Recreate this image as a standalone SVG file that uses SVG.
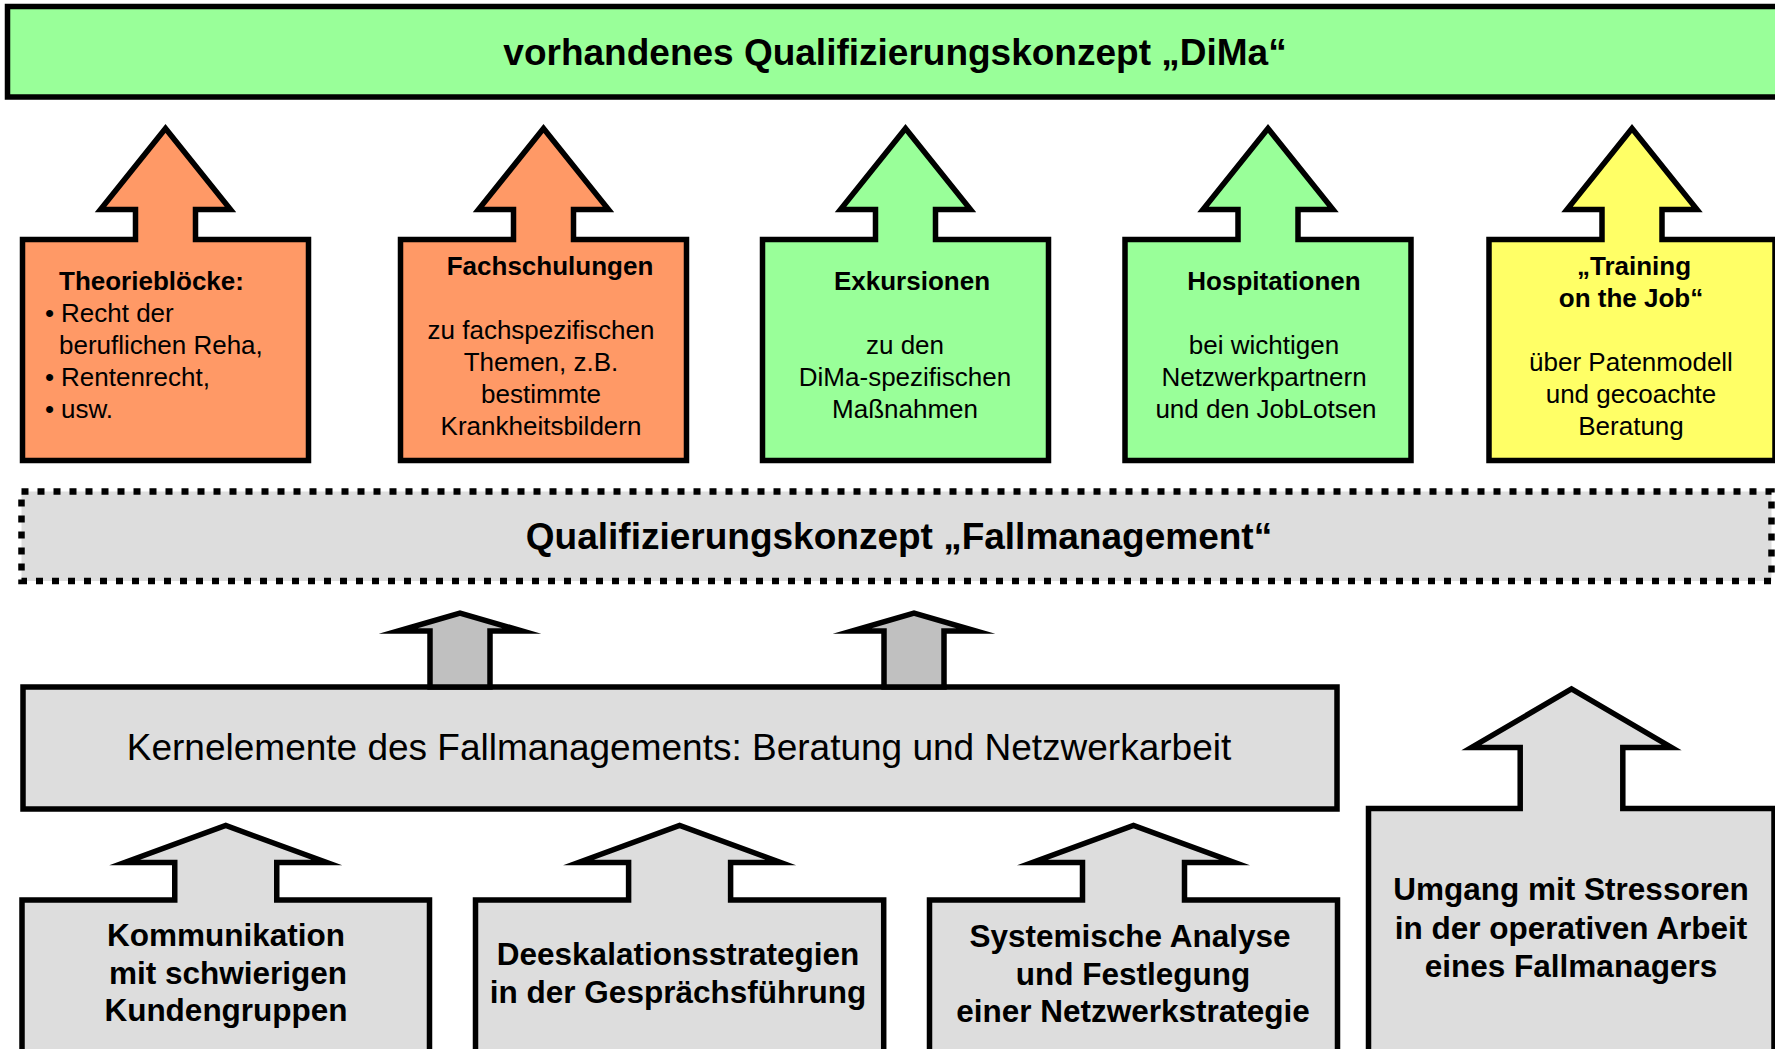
<svg xmlns="http://www.w3.org/2000/svg" width="1775" height="1049" viewBox="0 0 1775 1049">
<style>
.s{stroke:#000;stroke-width:5.5;stroke-linejoin:miter;stroke-miterlimit:12}
.dot{stroke:#000;stroke-width:6.5;stroke-dasharray:7 9;fill:#DDDDDD}
.or{fill:#FF9966}
.gr{fill:#99FF99}
.ye{fill:#FFFF66}
.lg{fill:#DDDDDD}
.dg{fill:#C0C0C0}
text{font-family:"Liberation Sans",Arial,Helvetica,sans-serif;fill:#000}
.b{font-weight:bold}
.c{text-anchor:middle}
.f37{font-size:37px}
.f26{font-size:26px}
.f31{font-size:31.5px}
</style>
<rect width="1775" height="1049" fill="#fff"/>

<g id="dima">
<rect class="s gr" x="7.5" y="6.5" width="1790" height="90.5"/>
<text class="b c f37" x="895" y="65">vorhandenes Qualifizierungskonzept „DiMa“</text>
</g>

<g id="theorie">
<polygon class="s or" points="22.5,239.5 135.5,239.5 135.5,209.5 100.5,209.5 165.5,128.5 230.5,209.5 195.5,209.5 195.5,239.5 308.5,239.5 308.5,460.5 22.5,460.5"/>
<text class="f26"><tspan class="b" x="59" y="290">Theorieblöcke:</tspan><tspan x="45" y="322">•</tspan><tspan x="61" y="322">Recht der</tspan><tspan x="59" y="354">beruflichen Reha,</tspan><tspan x="45" y="386">•</tspan><tspan x="61" y="386">Rentenrecht,</tspan><tspan x="45" y="418">•</tspan><tspan x="61" y="418">usw.</tspan></text>
</g>

<g id="fachschulungen">
<polygon class="s or" points="400.5,239.5 513.5,239.5 513.5,209.5 478.5,209.5 543.5,128.5 608.5,209.5 573.5,209.5 573.5,239.5 686.5,239.5 686.5,460.5 400.5,460.5"/>
<text class="f26 c"><tspan class="b" x="550" y="275">Fachschulungen</tspan><tspan x="541" y="339">zu fachspezifischen</tspan><tspan x="541" y="371">Themen, z.B.</tspan><tspan x="541" y="403">bestimmte</tspan><tspan x="541" y="435">Krankheitsbildern</tspan></text>
</g>

<g id="exkursionen">
<polygon class="s gr" points="762.5,239.5 875.5,239.5 875.5,209.5 840.5,209.5 905.5,128.5 970.5,209.5 935.5,209.5 935.5,239.5 1048.5,239.5 1048.5,460.5 762.5,460.5"/>
<text class="f26 c"><tspan class="b" x="912" y="290">Exkursionen</tspan><tspan x="905" y="354">zu den</tspan><tspan x="905" y="386">DiMa-spezifischen</tspan><tspan x="905" y="418">Maßnahmen</tspan></text>
</g>

<g id="hospitationen">
<polygon class="s gr" points="1125,239.5 1238,239.5 1238,209.5 1203,209.5 1268,128.5 1333,209.5 1298,209.5 1298,239.5 1411,239.5 1411,460.5 1125,460.5"/>
<text class="f26 c"><tspan class="b" x="1274" y="290">Hospitationen</tspan><tspan x="1264" y="354">bei wichtigen</tspan><tspan x="1264" y="386">Netzwerkpartnern</tspan><tspan x="1266" y="418">und den JobLotsen</tspan></text>
</g>

<g id="training">
<polygon class="s ye" points="1489,239.5 1602,239.5 1602,209.5 1567,209.5 1632,128.5 1697,209.5 1662,209.5 1662,239.5 1775,239.5 1775,460.5 1489,460.5"/>
<text class="f26 c"><tspan class="b" x="1634" y="275">„Training</tspan><tspan class="b" x="1631" y="307">on the Job“</tspan><tspan x="1631" y="371">über Patenmodell</tspan><tspan x="1631" y="403">und gecoachte</tspan><tspan x="1631" y="435">Beratung</tspan></text>
</g>

<g id="fallmanagement">
<rect class="dot" x="21.5" y="491.5" width="1750" height="89.5"/>
<text class="b c f37" x="899" y="548.5">Qualifizierungskonzept „Fallmanagement“</text>
</g>

<g id="kernelemente">
<rect class="s lg" x="23" y="687" width="1314" height="122"/>
<text class="c f37" x="679" y="760">Kernelemente des Fallmanagements: Beratung und Netzwerkarbeit</text>
</g>

<g id="connectors">
<polygon class="s dg" points="430,687 430,631 398,631 460,613 522,631 490,631 490,687"/>
<polygon class="s dg" points="884,687 884,631 852,631 914,613 976,631 944,631 944,687"/>
</g>

<g id="kommunikation">
<polygon class="s lg" points="22,900 174.75,900 174.75,862.5 124.75,862.5 225.75,825.5 326.75,862.5 276.75,862.5 276.75,900 429.5,900 429.5,1060 22,1060"/>
<text class="b c f31"><tspan x="226" y="946">Kommunikation</tspan><tspan x="228" y="984">mit schwierigen</tspan><tspan x="226" y="1021">Kundengruppen</tspan></text>
</g>

<g id="deeskalation">
<polygon class="s lg" points="475.5,900 628.6,900 628.6,862.5 578.6,862.5 679.6,825.5 780.6,862.5 730.6,862.5 730.6,900 883.7,900 883.7,1060 475.5,1060"/>
<text class="b c f31"><tspan x="678" y="965">Deeskalationsstrategien</tspan><tspan x="678" y="1003">in der Gesprächsführung</tspan></text>
</g>

<g id="systemische">
<polygon class="s lg" points="929.5,900 1082.5,900 1082.5,862.5 1032.5,862.5 1133.5,825.5 1234.5,862.5 1184.5,862.5 1184.5,900 1337.5,900 1337.5,1060 929.5,1060"/>
<text class="b c f31"><tspan x="1130" y="947">Systemische Analyse</tspan><tspan x="1133" y="984.5">und Festlegung</tspan><tspan x="1133" y="1022">einer Netzwerkstrategie</tspan></text>
</g>

<g id="umgang">
<polygon class="s lg" points="1368.5,808.5 1520.2,808.5 1520.2,747.5 1471.5,747.5 1571.5,689 1671.5,747.5 1622.8,747.5 1622.8,808.5 1774,808.5 1774,1060 1368.5,1060"/>
<text class="b c f31"><tspan x="1571" y="900">Umgang mit Stressoren</tspan><tspan x="1571" y="938.5">in der operativen Arbeit</tspan><tspan x="1571" y="977">eines Fallmanagers</tspan></text>
</g>
</svg>
